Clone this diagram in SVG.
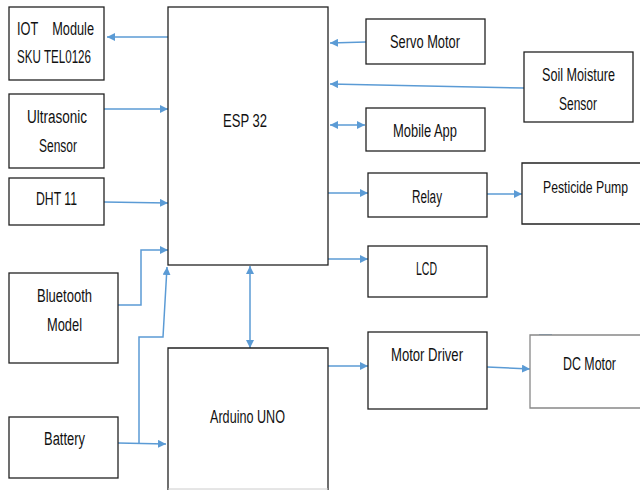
<svg xmlns="http://www.w3.org/2000/svg" width="640" height="490" viewBox="0 0 640 490">
<defs>
<marker id="ah" viewBox="0 0 10 10" refX="10" refY="5" markerWidth="8" markerHeight="8" markerUnits="userSpaceOnUse" orient="auto-start-reverse">
<path d="M0,0 L10,5 L0,10 z" fill="#5B9BD5"/>
</marker>
<style>
.box{fill:#fff;stroke:#222;stroke-width:1.3}
.gbox{fill:#fff;stroke:#888;stroke-width:1.3}
.lbl{font-family:"Liberation Sans",Arial,sans-serif;font-size:18px;fill:#111;text-anchor:middle}
.sm{font-size:17px}
.c{fill:none;stroke:#5B9BD5;stroke-width:1.5}
.a{marker-end:url(#ah)}
.d{marker-start:url(#ah);marker-end:url(#ah)}
</style>
</defs>
<rect width="640" height="490" fill="#fff"/>
<g id="connectors">
<line class="c a" x1="168" y1="37" x2="107" y2="37"/>
<line class="c a" x1="104" y1="109" x2="168" y2="109"/>
<line class="c a" x1="104" y1="202" x2="168" y2="203"/>
<polyline class="c a" points="118,305 141,305 141,250 168,250"/>
<line class="c a" x1="118" y1="443" x2="166" y2="444"/>
<polyline class="c a" points="139,443 139,337 163,337 167,267"/>
<line class="c d" x1="250" y1="266" x2="250" y2="348"/>
<line class="c a" x1="366" y1="42" x2="330" y2="43"/>
<line class="c a" x1="524" y1="88" x2="330" y2="84"/>
<line class="c d" x1="330" y1="125" x2="365" y2="125"/>
<line class="c a" x1="328" y1="193" x2="368" y2="193"/>
<line class="c a" x1="487" y1="194" x2="522" y2="194"/>
<line class="c a" x1="328" y1="259" x2="368" y2="259"/>
<line class="c a" x1="328" y1="366" x2="368" y2="366"/>
<line class="c a" x1="487" y1="367" x2="530" y2="369"/>
<line class="c" x1="539" y1="335" x2="552" y2="335"/>
</g>
<g id="iot"><rect class="box" x="9" y="7" width="95" height="73"/><text class="lbl" x="55.5" y="35" textLength="77" lengthAdjust="spacingAndGlyphs" xml:space="preserve">IOT    Module</text><text class="lbl" x="54" y="63" textLength="74" lengthAdjust="spacingAndGlyphs">SKU TEL0126</text></g>
<g id="ultrasonic"><rect class="box" x="9" y="94" width="95" height="74"/><text class="lbl" x="57" y="123" textLength="60" lengthAdjust="spacingAndGlyphs">Ultrasonic</text><text class="lbl" x="58" y="152" textLength="38" lengthAdjust="spacingAndGlyphs">Sensor</text></g>
<g id="dht"><rect class="box" x="9" y="178" width="95" height="47"/><text class="lbl" x="56.5" y="205" textLength="41" lengthAdjust="spacingAndGlyphs">DHT 11</text></g>
<g id="bluetooth"><rect class="box" x="9" y="273" width="109" height="90"/><text class="lbl" x="64.5" y="302" textLength="55" lengthAdjust="spacingAndGlyphs">Bluetooth</text><text class="lbl" x="64.5" y="331" textLength="35" lengthAdjust="spacingAndGlyphs">Model</text></g>
<g id="battery"><rect class="box" x="9" y="417" width="109" height="61"/><text class="lbl" x="64.5" y="445" textLength="41" lengthAdjust="spacingAndGlyphs">Battery</text></g>
<g id="esp32"><rect class="box" x="168" y="7" width="160" height="258"/><text class="lbl" x="245" y="127" textLength="44" lengthAdjust="spacingAndGlyphs">ESP 32</text></g>
<g id="arduino"><path class="box" d="M168,490 L168,348 L328,348 L328,490"/><line x1="168" y1="489" x2="328" y2="489" stroke="#ccc" stroke-width="1"/><text class="lbl" x="247.5" y="423" textLength="75" lengthAdjust="spacingAndGlyphs">Arduino UNO</text></g>
<g id="servo"><rect class="box" x="366" y="19" width="119" height="45"/><text class="lbl" x="425" y="48" textLength="70" lengthAdjust="spacingAndGlyphs">Servo Motor</text></g>
<g id="soil"><rect class="box" x="524" y="52" width="109" height="70"/><text class="lbl" x="578.5" y="81" textLength="73" lengthAdjust="spacingAndGlyphs">Soil Moisture</text><text class="lbl" x="578" y="110" textLength="38" lengthAdjust="spacingAndGlyphs">Sensor</text></g>
<g id="mobile"><rect class="box" x="366" y="108" width="119" height="43"/><text class="lbl" x="425" y="137" textLength="64" lengthAdjust="spacingAndGlyphs">Mobile App</text></g>
<g id="relay"><rect class="box" x="368" y="173" width="119" height="44"/><text class="lbl" x="427" y="203" textLength="30" lengthAdjust="spacingAndGlyphs">Relay</text></g>
<g id="pump"><path class="box" d="M640,163 L522,163 L522,224 L640,224"/><text class="lbl sm" x="585.5" y="193" textLength="85" lengthAdjust="spacingAndGlyphs">Pesticide Pump</text></g>
<g id="lcd"><rect class="box" x="368" y="246" width="119" height="51"/><text class="lbl" x="426.5" y="275" textLength="21" lengthAdjust="spacingAndGlyphs">LCD</text></g>
<g id="motordriver"><rect class="box" x="368" y="332" width="119" height="77"/><text class="lbl" x="427" y="361" textLength="72" lengthAdjust="spacingAndGlyphs">Motor Driver</text></g>
<g id="dcmotor"><path class="gbox" d="M640,335 L530,335 L530,408 L640,408"/><text class="lbl" x="589.5" y="370" textLength="53" lengthAdjust="spacingAndGlyphs">DC Motor</text></g>
</svg>
